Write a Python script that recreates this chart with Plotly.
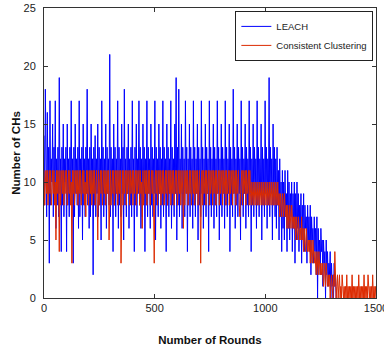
import plotly.graph_objects as go

STEP = 3  # rounds between sampled points

leach = [
    14, 8, 18, 12, 7, 16, 9, 13, 3, 17, 8, 12, 10, 15, 7, 13, 9, 17, 6, 12,
    8, 13, 7, 19, 9, 12, 4, 13, 8, 15, 7, 12, 10, 13, 4, 15, 8, 12, 7, 13,
    9, 17, 8, 12, 3, 13, 7, 15, 9, 12, 8, 13, 6, 17, 7, 12, 9, 13, 5, 15,
    8, 12, 7, 13, 9, 18, 8, 12, 6, 13, 7, 15, 9, 12, 2, 13, 8, 14, 7, 12,
    9, 15, 7, 13, 8, 12, 5, 17, 9, 13, 7, 12, 8, 15, 6, 13, 9, 12, 8, 21,
    7, 13, 9, 12, 4, 15, 8, 13, 7, 12, 9, 17, 6, 13, 8, 12, 7, 15, 9, 13,
    5, 18, 8, 12, 7, 13, 9, 15, 6, 12, 8, 13, 7, 17, 9, 12, 4, 13, 8, 15,
    7, 12, 9, 17, 8, 13, 6, 12, 7, 15, 9, 13, 4, 12, 8, 17, 7, 13, 9, 12,
    6, 15, 8, 13, 7, 12, 9, 17, 5, 13, 8, 12, 7, 15, 9, 13, 6, 12, 8, 17,
    7, 13, 9, 12, 4, 15, 8, 13, 7, 12, 9, 17, 6, 13, 8, 12, 7, 15, 9, 19,
    5, 13, 8, 18, 7, 12, 9, 15, 6, 13, 8, 12, 7, 17, 9, 13, 4, 12, 8, 15,
    7, 13, 9, 12, 6, 17, 8, 13, 7, 12, 9, 15, 5, 13, 8, 12, 7, 17, 9, 13,
    6, 12, 8, 15, 7, 13, 9, 12, 4, 17, 8, 13, 7, 12, 9, 15, 6, 13, 8, 12,
    7, 17, 9, 13, 5, 12, 8, 15, 7, 13, 9, 12, 6, 17, 8, 13, 7, 12, 9, 15,
    4, 13, 8, 12, 7, 18, 9, 13, 6, 12, 8, 15, 7, 13, 9, 12, 5, 17, 8, 13,
    7, 12, 9, 15, 6, 13, 8, 12, 7, 17, 9, 13, 4, 12, 8, 15, 7, 13, 9, 12,
    6, 17, 8, 13, 7, 12, 9, 15, 5, 13, 8, 12, 7, 17, 9, 13, 6, 12, 8, 19,
    7, 13, 9, 12, 5, 15, 8, 13, 7, 12, 6, 13, 8, 11, 5, 12, 7, 10, 4, 11,
    6, 10, 5, 11, 7, 9, 4, 11, 6, 10, 5, 9, 7, 10, 4, 9, 6, 10, 3, 9,
    5, 10, 6, 9, 4, 8, 6, 9, 3, 8, 5, 9, 4, 8, 6, 7, 3, 8, 5, 7,
    4, 8, 2, 7, 5, 6, 3, 7, 4, 6, 2, 7, 0, 6, 3, 5, 2, 6, 4, 5,
    1, 5, 3, 4, 0, 5, 2, 4, 1, 3, 2, 4, 0, 3, 1, 2, 0, 3, 1, 2,
    0,
]

consistent = [
    11, 8, 10, 11, 9, 11, 8, 10, 11, 9, 11, 8, 10, 11, 9, 11, 8, 10, 5, 11,
    9, 11, 10, 4, 11, 8, 10, 11, 9, 11, 8, 10, 11, 9, 11, 8, 10, 11, 9, 11,
    8, 10, 3, 11, 9, 11, 8, 10, 11, 9, 11, 8, 10, 11, 9, 11, 8, 10, 11, 9,
    11, 8, 10, 7, 11, 9, 11, 8, 10, 11, 9, 11, 8, 10, 11, 9, 11, 8, 10, 11,
    9, 5, 11, 8, 10, 11, 9, 11, 8, 10, 11, 9, 11, 8, 10, 11, 9, 11, 5, 10,
    11, 8, 10, 11, 9, 11, 8, 10, 11, 9, 11, 8, 10, 11, 9, 11, 3, 10, 11, 8,
    11, 9, 10, 11, 8, 11, 9, 10, 11, 8, 11, 9, 10, 11, 8, 11, 9, 10, 11, 8,
    11, 9, 10, 11, 8, 11, 9, 10, 6, 11, 8, 10, 11, 9, 11, 8, 10, 11, 9, 11,
    8, 10, 11, 9, 11, 8, 3, 10, 11, 9, 11, 8, 10, 11, 9, 11, 8, 10, 11, 9,
    11, 8, 10, 11, 9, 11, 8, 10, 11, 9, 11, 8, 10, 11, 9, 11, 8, 10, 11, 9,
    11, 8, 10, 11, 9, 11, 8, 10, 11, 9, 6, 11, 8, 10, 11, 9, 11, 8, 10, 11,
    9, 11, 8, 10, 11, 9, 11, 8, 10, 11, 9, 11, 8, 10, 11, 9, 3, 10, 11, 8,
    11, 9, 10, 11, 8, 11, 9, 10, 11, 8, 11, 9, 10, 11, 8, 11, 9, 10, 11, 8,
    11, 9, 10, 11, 8, 11, 9, 10, 11, 8, 11, 9, 10, 11, 8, 11, 9, 10, 11, 8,
    11, 9, 10, 11, 8, 11, 9, 10, 11, 8, 11, 9, 10, 11, 8, 7, 9, 10, 11, 8,
    11, 9, 10, 11, 8, 11, 9, 10, 11, 8, 11, 9, 8, 10, 9, 8, 10, 9, 8, 10,
    9, 8, 10, 9, 8, 10, 9, 8, 10, 9, 8, 10, 9, 8, 10, 9, 8, 10, 9, 8,
    10, 9, 8, 10, 9, 8, 10, 9, 8, 10, 9, 8, 10, 8, 9, 7, 9, 8, 7, 9,
    8, 7, 9, 8, 7, 8, 6, 8, 7, 6, 8, 7, 6, 8, 7, 6, 7, 6, 7, 5,
    7, 6, 5, 7, 6, 5, 6, 5, 7, 5, 6, 4, 6, 5, 4, 6, 5, 4, 5, 4,
    5, 3, 5, 4, 3, 5, 4, 3, 4, 3, 2, 4, 3, 2, 4, 3, 2, 3, 2, 3,
    2, 1, 3, 2, 1, 3, 2, 1, 2, 1, 2, 0, 1, 2, 1, 0, 2, 1, 4, 1,
    0, 1, 2, 0, 1, 2, 0, 1, 0, 2, 1, 0, 1, 0, 1, 0, 2, 0, 1, 0,
    1, 0, 1, 0, 2, 0, 1, 0, 1, 0, 1, 0, 1, 0, 2, 0, 1, 0, 1, 0,
    1, 0, 2, 0, 1, 0, 1, 0, 2, 1, 0, 1, 0, 1, 0, 2, 0, 1, 0, 1,
    0,
]

x_ticks = [0, 500, 1000, 1500]
y_ticks = [0, 5, 10, 15, 20, 25]

rounds_leach = [i * STEP for i in range(len(leach))]
rounds_cons = [i * STEP for i in range(len(consistent))]

fig = go.Figure()
fig.add_trace(go.Scatter(x=rounds_leach, y=leach, mode="lines", name="LEACH",
                         line=dict(color="#0000ff", width=1)))
fig.add_trace(go.Scatter(x=rounds_cons, y=consistent, mode="lines",
                         name="Consistent Clustering",
                         line=dict(color="#dc2a00", width=1)))

axis_common = dict(
    showgrid=False, zeroline=False, showline=True, linecolor="#333333",
    linewidth=1, mirror="ticks", ticks="inside", ticklen=4, automargin=False,
    tickcolor="#333333", tickfont=dict(family="Liberation Sans", size=11,
                                       color="#222222"),
)

fig.update_layout(
    width=384, height=350,
    margin=dict(l=43.5, r=8.3, t=7.5, b=52),
    paper_bgcolor="white", plot_bgcolor="white",
    font=dict(family="Liberation Sans"),
    showlegend=True,
    legend=dict(x=0.992, y=0.99, xanchor="right", yanchor="top",
                bgcolor="white", bordercolor="#222222", borderwidth=1,
                font=dict(family="Liberation Sans", size=9.5, color="#222222"),
                tracegroupgap=0),
    xaxis=dict(range=[0, 1500], tickvals=x_ticks, ticklabeloverflow="allow",
               title=dict(text="<b>Number of Rounds</b>", standoff=22,
                          font=dict(size=11.5, color="#111111")),
               **axis_common),
    yaxis=dict(range=[0, 25], tickvals=y_ticks, ticklabelstandoff=5,
               title=dict(text="<b>Number of CHs</b>", standoff=0,
                          font=dict(size=11.5, color="#111111")),
               **axis_common),
)

fig.write_html("out.html")
